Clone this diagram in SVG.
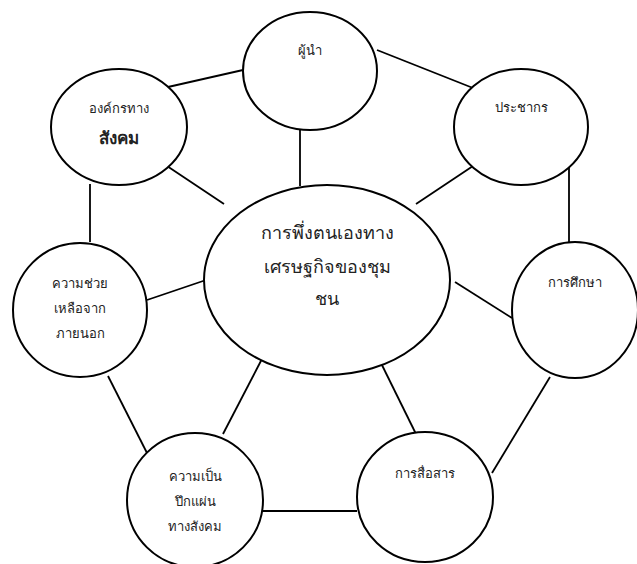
<svg xmlns="http://www.w3.org/2000/svg" width="637" height="564" viewBox="0 0 637 564">
<style>
.n{fill:#fff;stroke:#000;stroke-width:2}
.c line{stroke:#000;stroke-width:1.8}
text{font-family:"Noto Sans","DejaVu Sans",sans-serif;fill:#222;text-anchor:middle}
.s{font-size:13px}
.b{font-size:17px;font-weight:bold}
.m{font-size:18px}
</style>
<rect width="637" height="564" fill="#fff"/>
<g id="connectors" class="c">
<line x1="168" y1="87" x2="243" y2="70"/>
<line x1="377" y1="50" x2="473" y2="88"/>
<line x1="300" y1="130" x2="300" y2="186"/>
<line x1="167" y1="166" x2="224" y2="204"/>
<line x1="473" y1="166" x2="416" y2="204"/>
<line x1="90" y1="184" x2="90" y2="242"/>
<line x1="147" y1="300" x2="206" y2="280"/>
<line x1="569" y1="166" x2="569" y2="242"/>
<line x1="455" y1="282" x2="512" y2="318"/>
<line x1="108" y1="376" x2="147" y2="453"/>
<line x1="263" y1="357" x2="223" y2="434"/>
<line x1="378" y1="357" x2="416" y2="434"/>
<line x1="550" y1="377" x2="492" y2="473"/>
<line x1="263" y1="511" x2="357" y2="511"/>
</g>
<g id="leader"><ellipse class="n" cx="310" cy="71" rx="67" ry="59"/><text class="s" x="310" y="55">ผู้นำ</text></g>
<g id="org"><ellipse class="n" cx="119" cy="127" rx="68" ry="58"/><text class="s" x="119" y="113">องค์กรทาง</text><text class="b" x="119" y="144">สังคม</text></g>
<g id="population"><ellipse class="n" cx="521" cy="127" rx="67" ry="58"/><text class="s" x="521" y="112">ประชากร</text></g>
<g id="center"><ellipse class="n" cx="327" cy="280" rx="123" ry="95"/><text class="m" x="327" y="239">การพึ่งตนเองทาง</text><text class="m" x="327" y="273">เศรษฐกิจของชุม</text><text class="m" x="327" y="305">ชน</text></g>
<g id="external-help"><ellipse class="n" cx="80" cy="310" rx="67" ry="67"/><text class="s" x="80" y="288">ความช่วย</text><text class="s" x="80" y="313">เหลือจาก</text><text class="s" x="80" y="338">ภายนอก</text></g>
<g id="education"><ellipse class="n" cx="575" cy="310" rx="63" ry="68"/><text class="s" x="575" y="287">การศึกษา</text></g>
<g id="social-unity"><ellipse class="n" cx="195" cy="500" rx="68" ry="67"/><text class="s" x="195" y="481">ความเป็น</text><text class="s" x="195" y="506">ปึกแผ่น</text><text class="s" x="195" y="531">ทางสังคม</text></g>
<g id="communication"><ellipse class="n" cx="425" cy="497" rx="68" ry="65"/><text class="s" x="425" y="478">การสื่อสาร</text></g>
</svg>
